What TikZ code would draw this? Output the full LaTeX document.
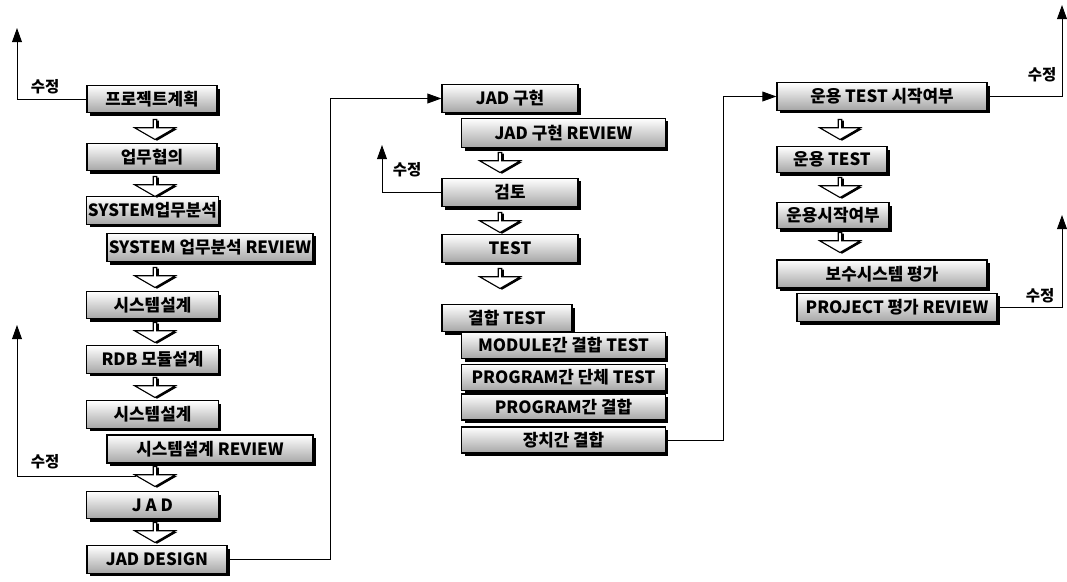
\documentclass[tikz,border=0pt]{standalone}
\usepackage{fontspec}
\setmainfont{Noto Sans CJK KR}
\usetikzlibrary{positioning,arrows.meta,shapes.arrows,shadows}

\tikzset{
  stepbox/.style={draw, line width=0.8pt, top color=white, bottom color=black!35,
    drop shadow={fill=black, opacity=1, shadow xshift=0.08cm, shadow yshift=-0.08cm},
    minimum height=0.68cm, inner sep=0pt, font=\bfseries\fontsize{12}{14}\selectfont},
  blockarr/.style={single arrow, shape border rotate=270, draw, line width=0.8pt, fill=white,
    minimum height=0.5cm, minimum width=1.02cm, single arrow head extend=0.15cm,
    single arrow tip angle=120, inner sep=0pt,
    drop shadow={fill=black, opacity=1, shadow xshift=0.05cm, shadow yshift=-0.03cm}},
  fb/.style={line width=0.7pt, -{Triangle[length=10pt,width=7pt]}},
  redo/.style={font=\bfseries\fontsize{11}{13}\selectfont}
}

\begin{document}
\begin{tikzpicture}[x=0.025cm,y=-0.025cm]
  \useasboundingbox (0,0) rectangle (1067,581);

  % left column
  \node[stepbox, minimum width=3.25cm] (plan) at (152,99) {프로젝트계획};
  \node[stepbox, minimum width=3.25cm] (consult) at (152,157) {업무협의};
  \node[stepbox, minimum width=3.28cm] (sysana) at (152.5,210.5) {SYSTEM업무분석};
  \node[stepbox, minimum width=5.15cm, minimum height=0.72cm] (sysrev) at (210,247.5) {SYSTEM 업무분석 REVIEW};
  \node[stepbox, minimum width=3.28cm] (sysdesa) at (152.5,305) {시스템설계};
  \node[stepbox, minimum width=3.28cm] (rdb) at (152.5,359.5) {RDB 모듈설계};
  \node[stepbox, minimum width=3.28cm] (sysdesb) at (152.5,414.5) {시스템설계};
  \node[stepbox, minimum width=5.15cm, minimum height=0.7cm] (desrev) at (210,449) {시스템설계 REVIEW};
  \node[stepbox, minimum width=3.28cm] (jad) at (152.5,505) {J A D};
  \node[stepbox, minimum width=3.5cm] (jaddesign) at (157,559.5) {JAD DESIGN};

  \node[blockarr] (la1) at (155,129) {};
  \node[blockarr] (la2) at (155,186) {};
  \node[blockarr] (la3) at (155,277) {};
  \node[blockarr] (la4) at (155,332) {};
  \node[blockarr] (la5) at (155,387) {};
  \node[blockarr] (la6) at (155,476) {};
  \node[blockarr] (la7) at (155,532) {};

  % middle column
  \node[stepbox, minimum width=3.4cm] (impl) at (510,98.5) {JAD 구현};
  \node[stepbox, minimum width=5.08cm, minimum height=0.74cm] (implrev) at (563.5,133) {JAD 구현 REVIEW};
  \node[stepbox, minimum width=3.4cm, minimum height=0.72cm] (check) at (510,192.5) {검토};
  \node[stepbox, minimum width=3.4cm] (test) at (510,248.5) {TEST};
  \node[stepbox, minimum width=3.25cm] (integ) at (507,318) {결합 TEST};
  \node[stepbox, minimum width=5.08cm, minimum height=0.65cm] (modtest) at (563.5,345.5) {MODULE간 결합 TEST};
  \node[stepbox, minimum width=5.08cm, minimum height=0.65cm] (progunit) at (563.5,377.5) {PROGRAM간 단체 TEST};
  \node[stepbox, minimum width=5.08cm, minimum height=0.65cm] (progint) at (563.5,407) {PROGRAM간 결합};
  \node[stepbox, minimum width=5.08cm, minimum height=0.65cm] (devint) at (563.5,440) {장치간 결합};

  \node[blockarr] (ma1) at (500,162) {};
  \node[blockarr] (ma2) at (500,222) {};
  \node[blockarr] (ma3) at (500,278) {};

  % right column
  \node[stepbox, minimum width=5.25cm] (opstart) at (882,96.5) {운용 TEST 시작여부};
  \node[stepbox, minimum width=2.75cm, minimum height=0.64cm] (optest) at (832,159.5) {운용 TEST};
  \node[stepbox, minimum width=2.8cm, minimum height=0.64cm] (opgo) at (833,215.5) {운용시작여부};
  \node[stepbox, minimum width=5.25cm, minimum height=0.7cm] (maint) at (882,274) {보수시스템 평가};
  \node[stepbox, minimum width=5cm, minimum height=0.72cm] (projrev) at (897,307.5) {PROJECT 평가 REVIEW};

  \node[blockarr] (ra1) at (840,129) {};
  \node[blockarr] (ra2) at (840,187) {};
  \node[blockarr] (ra3) at (840,242) {};

  % feedback lines
  \coordinate (up1) at (17,28);
  \coordinate (up2) at (17,325);
  \coordinate (up3) at (382,145);
  \coordinate (up4) at (1062,5);
  \coordinate (up5) at (1062,215);
  \draw[fb] (plan.west) -| (up1);
  \draw[fb] (la6.west) -| (up2);
  \draw[fb] (check.west) -| (up3);
  \draw[fb] (opstart.east) -| (up4);
  \draw[fb] (projrev.east) -| (up5);
  \node[redo] (r1) at (45,87) {수정};
  \node[redo] (r2) at (45,462) {수정};
  \node[redo] (r3) at (407,170) {수정};
  \node[redo] (r4) at (1042,75) {수정};
  \node[redo] (r5) at (1040,296) {수정};

  \draw[fb] (jaddesign.east) -- ++(103,0) |- (impl.west);
  \draw[fb] (devint.east) -- ++(58,0) |- (opstart.west);
\end{tikzpicture}
\end{document}
